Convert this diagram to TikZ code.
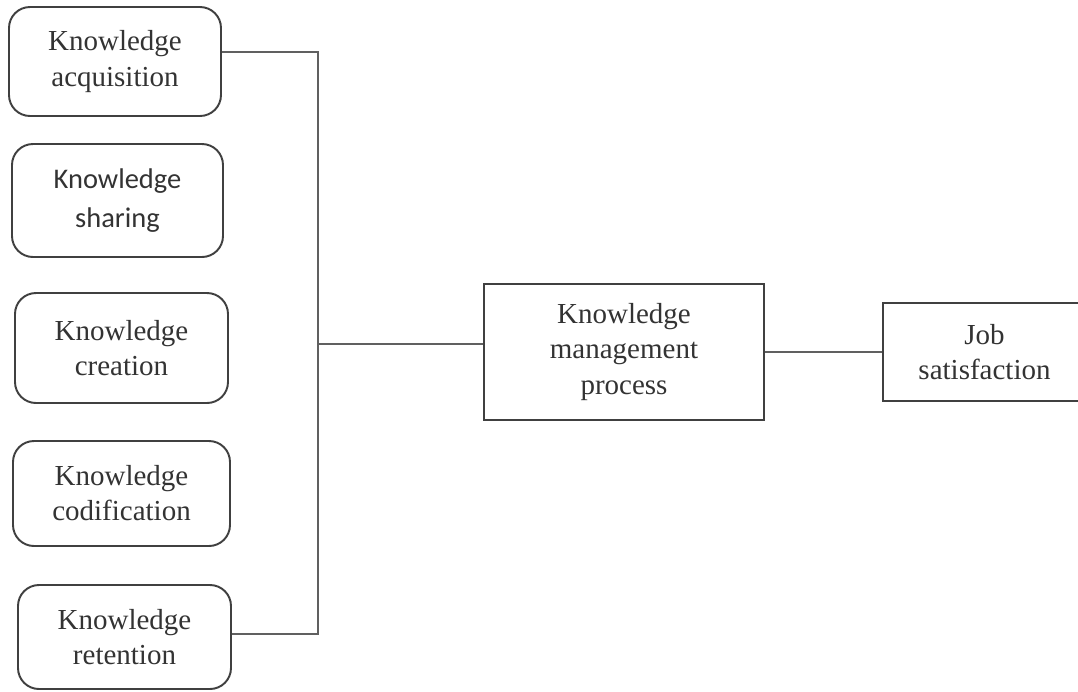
\documentclass[tikz,border=0pt]{standalone}
\usepackage{fontspec}
\setmainfont{Liberation Serif}
\newfontfamily\calibrifont{Carlito}
\usetikzlibrary{calc}
\usetikzlibrary{positioning}

\definecolor{boxline}{HTML}{404040}
\definecolor{linkline}{HTML}{606060}
\definecolor{boxtext}{HTML}{333333}

\tikzset{
  kbox/.style={draw=boxline, line width=1.1pt, rounded corners=0.42cm, align=center,
    inner sep=0pt, text=boxtext, font=\fontsize{16.5}{20}\selectfont},
  sqbox/.style={draw=boxline, line width=1.1pt, align=center,
    inner sep=0pt, text=boxtext, font=\fontsize{16.5}{20}\selectfont},
  link/.style={draw=linkline, line width=0.7pt}
}

\begin{document}
\begin{tikzpicture}
            \useasboundingbox (0,0) rectangle (21.56,-13.82);

            % Left column: knowledge processes
            \node[kbox, minimum width=4.24cm, minimum height=2.18cm] (acq) at (2.30,-1.23) {Knowledge\\acquisition};
            \node[kbox, minimum width=4.22cm, minimum height=2.26cm,
                  font=\calibrifont\fontsize{16.2}{22}\selectfont] (sha) at (2.35,-4.01) {Knowledge\\sharing};
            \node[kbox, minimum width=4.26cm, minimum height=2.20cm] (cre) at (2.43,-6.96) {Knowledge\\creation};
            \node[kbox, minimum width=4.34cm, minimum height=2.10cm] (cod) at (2.43,-9.87) {Knowledge\\codification};
            \node[kbox, minimum width=4.26cm, minimum height=2.08cm] (ret) at (2.49,-12.74) {Knowledge\\retention};

            % Middle and right boxes
            \node[sqbox, minimum width=5.60cm, minimum height=2.72cm] (kmp) at (12.48,-7.04) {Knowledge\\management\\process};
            \node[sqbox, minimum width=4.06cm, minimum height=1.96cm] (job) at (19.69,-7.04) {Job\\satisfaction};

            % Bracket joining the left column
            \coordinate (jtop) at (6.36,-1.04);
            \coordinate (jbot) at (6.36,-12.68);
            \coordinate (jmid) at (6.36,-6.88);
            \draw[link] (jtop -| acq.east) -- (jtop) -- (jbot) -- (jbot -| ret.east);
            \draw[link] (jmid) -- (jmid -| kmp.west);

            % Link to job satisfaction
            \draw[link] (kmp.east) -- (job.west);

        \end{tikzpicture}
\end{document}
